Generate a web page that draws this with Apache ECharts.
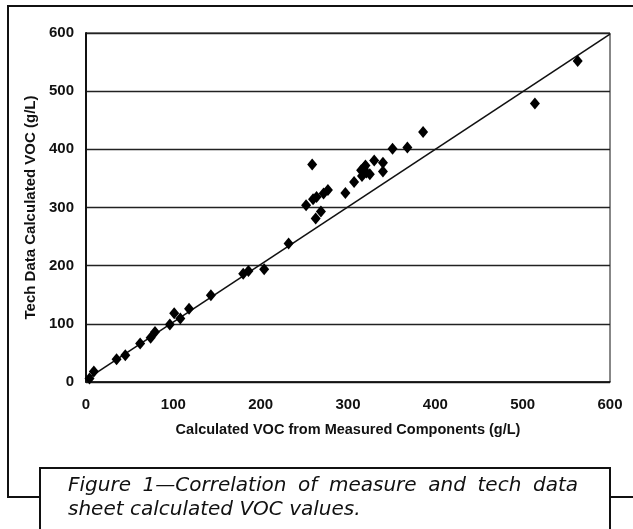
<!DOCTYPE html>
<html>
<head>
<meta charset="utf-8">
<script src="https://cdn.jsdelivr.net/npm/echarts@6/dist/echarts.min.js"></script>
<style>
  html, body { margin: 0; padding: 0; background: #fff; }
  #chart { width: 633px; height: 529px; }
</style>
</head>
<body>
<div id="chart"></div>
<script>
// measured VOC (x) vs tech data sheet VOC (y), g/L
const measuredVoc = [4, 9, 35, 45, 62, 74, 79, 96, 101, 108, 118, 143, 180, 186, 204, 232,
  252, 259, 260, 264, 272, 277, 263, 269, 297, 307, 315, 316, 318, 320, 321, 325, 330, 340, 340,
  351, 368, 386, 514, 563]
const techVoc = [6, 18, 39, 46, 66, 76, 86, 99, 118, 109, 126, 149, 186, 191, 194, 238,
  304, 374, 314, 318, 324, 330, 281, 293, 325, 344, 364, 354, 368, 372, 360, 357, 381, 377, 362,
  401, 403, 430, 479, 552]
// fitted trend line end points
const trendX = [0, 600]
const trendY = [4, 598]
const axisTicks = [0, 100, 200, 300, 400, 500, 600]

const captionLine1 = 'Figure 1—Correlation of measure and tech data'
const captionLine2 = 'sheet calculated VOC values.'

const chart = echarts.init(document.getElementById('chart'))
const font = "'Liberation Sans Narrow', 'Liberation Sans', Arial, sans-serif"
const capFont = "italic 20px 'DejaVu Sans', sans-serif"

// first caption line is justified in print: spread the words between two edges
function justify(text, x0, x1) {
  const ctx = document.createElement('canvas').getContext('2d')
  ctx.font = capFont
  const words = text.split(' ')
  const widths = words.map(w => ctx.measureText(w).width)
  const gap = (x1 - x0 - widths.reduce((a, b) => a + b, 0)) / (words.length - 1)
  let x = x0
  return words.map((w, i) => { const left = x; x += widths[i] + gap; return { w, left } })
}

const graphics = [
  // outer page frame
  { type: 'polyline', shape: { points: [[40, 497], [8, 497], [8, 6], [633, 6]] },
    style: { stroke: '#111', lineWidth: 2, fill: null }, silent: true },
  { type: 'line', shape: { x1: 610, y1: 497, x2: 633, y2: 497 },
    style: { stroke: '#111', lineWidth: 2 }, silent: true },
  // caption box
  { type: 'rect', shape: { x: 40, y: 468, width: 570, height: 70 },
    style: { stroke: '#111', lineWidth: 2, fill: '#fff' }, silent: true },
  { type: 'text', x: 68, y: 510, silent: true,
    style: { text: captionLine2, font: capFont, fill: '#111', verticalAlign: 'middle' } }
]
justify(captionLine1, 68, 578).forEach(p => {
  graphics.push({ type: 'text', x: p.left, y: 486, silent: true,
    style: { text: p.w, font: capFont, fill: '#111', verticalAlign: 'middle' } })
})

chart.setOption({
  animation: false,
  backgroundColor: '#fff',
  grid: { left: 86, right: 23, top: 33, bottom: 147, show: true, borderColor: '#111', borderWidth: 1 },
  xAxis: {
    type: 'value', min: 0, max: 600, interval: 100,
    name: 'Calculated VOC from Measured Components (g/L)',
    nameLocation: 'middle', nameGap: 40,
    nameTextStyle: { fontFamily: font, fontWeight: 'bold', fontSize: 14.5, color: '#111' },
    axisLine: { lineStyle: { color: '#111', width: 1.5 } },
    axisTick: { show: false },
    splitLine: { show: false },
    axisLabel: { margin: 15, fontFamily: font, fontWeight: 'bold', fontSize: 15, color: '#111',
      formatter: v => axisTicks.includes(v) ? String(v) : '' }
  },
  yAxis: {
    type: 'value', min: 0, max: 600, interval: 100,
    name: 'Tech Data Calculated VOC (g/L)',
    nameLocation: 'middle', nameGap: 46,
    nameTextStyle: { fontFamily: font, fontWeight: 'bold', fontSize: 15, color: '#111' },
    axisLine: { show: true, lineStyle: { color: '#111', width: 2 } },
    axisTick: { show: false },
    splitLine: { lineStyle: { color: '#222', width: 1.3 } },
    axisLabel: { margin: 12, fontFamily: font, fontWeight: 'bold', fontSize: 15, color: '#111',
      formatter: v => axisTicks.includes(v) ? String(v) : '' }
  },
  graphic: graphics,
  series: [
    {
      type: 'line', silent: true, symbol: 'none',
      data: trendX.map((x, i) => [x, trendY[i]]),
      lineStyle: { color: '#111', width: 1.6 }, z: 3
    },
    {
      type: 'scatter', symbol: 'diamond', symbolSize: [10, 12],
      data: measuredVoc.map((x, i) => [x, techVoc[i]]),
      itemStyle: { color: '#000', opacity: 1 }, z: 4
    }
  ]
})
</script>
</body>
</html>
